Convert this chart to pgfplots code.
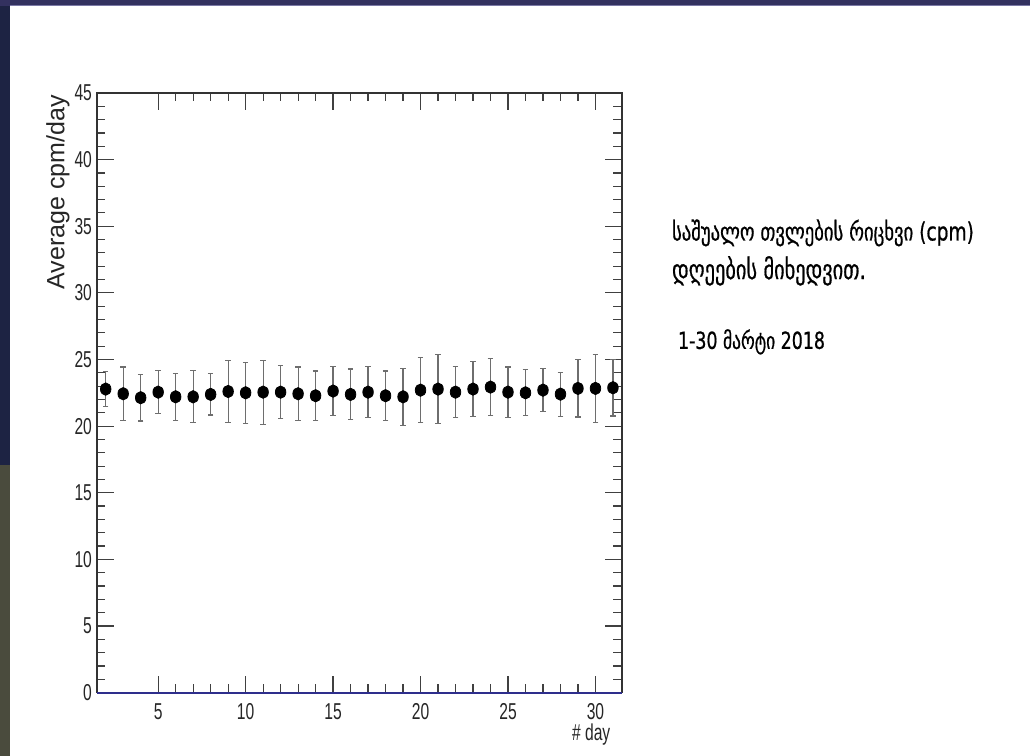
\documentclass[border=0pt]{standalone}
\usepackage{fontspec}
\setmainfont{Liberation Sans}
\newfontfamily\geofont[FakeBold=0.8]{DejaVu Sans}
\usepackage{pgfplots}
\pgfplotsset{compat=1.18}
\usepackage{pgfplotstable}

\definecolor{slidenavy}{HTML}{33315F}
\definecolor{slideline}{HTML}{7B79A6}
\definecolor{leftnavy}{HTML}{1D2343}
\definecolor{leftolive}{HTML}{4A4B3D}
\definecolor{baseblue}{HTML}{2E2E8C}
\definecolor{errgray}{HTML}{6E6E6E}

% day, mean cpm, error
\pgfplotstableread{
day mean err
2  22.78 1.30
3  22.43 2.00
4  22.13 1.75
5  22.55 1.60
6  22.20 1.75
7  22.20 1.95
8  22.38 1.55
9  22.60 2.30
10 22.50 2.30
11 22.55 2.40
12 22.55 2.00
13 22.43 2.00
14 22.28 1.85
15 22.63 1.85
16 22.38 1.90
17 22.55 1.92
18 22.28 1.85
19 22.20 2.15
20 22.70 2.42
21 22.78 2.60
22 22.55 1.92
23 22.78 2.05
24 22.93 2.12
25 22.55 1.88
26 22.50 1.72
27 22.70 1.62
28 22.40 1.65
29 22.83 2.14
30 22.83 2.56
31 22.88 2.12
}\cpmdata

\begin{document}
\begin{tikzpicture}
% slide background
\fill[leftolive] (0,0) rectangle (515pt,378pt);
\fill[leftnavy] (0,145.5pt) rectangle (5pt,378pt);
\fill[white] (5pt,0) rectangle (515pt,375pt);
\fill[slidenavy] (0,375pt) rectangle (515pt,378pt);
\draw[slideline, line width=0.5pt] (5pt,375pt) -- (515pt,375pt);

\begin{axis}[
at={(48.5pt,31.5pt)}, anchor=south west,
scale only axis,
width=262.5pt, height=300pt,
xmin=1.5, xmax=31.5,
ymin=0, ymax=45,
xtick={5,10,15,20,25,30},
ytick={0,5,10,15,20,25,30,35,40,45},
minor tick num=4,
major tick length=8.5pt,
minor tick length=4.2pt,
tick style={black!75, line width=0.6pt},
axis line style={black!80, line width=0.8pt},
/pgf/number format/assume math mode=true,
xticklabel={\scalebox{0.68}[1]{\pgfmathprintnumber{\tick}}},
yticklabel={\scalebox{0.68}[1]{\pgfmathprintnumber{\tick}}},
ticklabel style={font=\fontsize{11.5}{12}\selectfont, text=black!85},
xticklabel style={yshift=-2pt},
yticklabel style={xshift=1pt},
clip=false,
]
\addplot[baseblue, line width=1pt, forget plot] coordinates {(1.5,0) (31.5,0)};
\addplot[
only marks,
mark=*, mark size=3.1pt,
mark options={black, xscale=0.85},
error bars/.cd,
y dir=both, y explicit,
error bar style={errgray, line width=0.6pt},
error mark options={rotate=90, mark size=1.4pt, errgray, line width=0.6pt},
] table[x=day, y=mean, y error=err] {\cpmdata};
\end{axis}

% axis titles
\node[rotate=90, anchor=east, inner sep=0pt, font=\fontsize{12.5}{13}\selectfont, text=black!85]
  at (29pt,330.5pt) {Average cpm/day};
\node[anchor=east, inner sep=0pt, font=\fontsize{11.5}{12}\selectfont, text=black!85]
  at (305.5pt,10.5pt) {\scalebox{0.68}[1]{\# day}};

% Georgian caption
\node[anchor=west, inner sep=0pt] at (336pt,261.5pt)
  {\scalebox{1}[1.35]{\resizebox{151pt}{!}{\geofont საშუალო თვლების რიცხვი (cpm)}}};
\node[anchor=west, inner sep=0pt] at (336pt,242.5pt)
  {\scalebox{1}[1.35]{\resizebox{97pt}{!}{\geofont დღეების მიხედვით.}}};
\node[anchor=west, inner sep=0pt] at (339pt,207pt)
  {\scalebox{1}[1.35]{\resizebox{73.5pt}{!}{\geofont 1-30 მარტი 2018}}};
\end{tikzpicture}
\end{document}
